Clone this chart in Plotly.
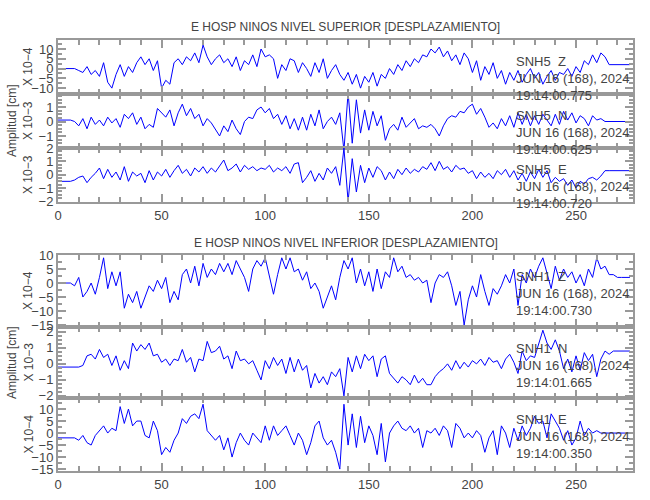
import numpy as np
import plotly.graph_objects as go

# desplazamiento, muestreado cada 2 s (0..276 s)
sup_z = [0, 0, 0, 0, 0, -1, -2, 1, -3, -1,
         -4, 3, -7, -10, -3, 2, -4, 1, -2, 3,
         6, 2, 5, -1, 4, -10, -6, -8, 3, 5,
         2, 6, 4, 8, 3, 12, 6, 2, 5, 7,
         3, 5, 1, 6, -1, 4, 2, 7, 1, 10,
         6, 7, 5, -5, 2, -1, 5, 4, -2, 3,
         0, -4, 3, -2, 5, -5, -1, 2, -3, -6,
         -2, -8, -3, -10, -4, -7, -2, -9, -3, -5,
         0, -3, 2, -1, 4, 1, 5, 3, 7, 6,
         10, 8, 11, 6, 9, 4, 7, 2, 8, 5,
         -2, 4, -6, 1, -3, 3, -5, -1, -8, -2,
         -6, -1, -7, -3, 0, -5, -2, -8, -4, -1,
         -6, -2, -3, 0, -4, 1, -2, 4, 2, 7,
         3, 8, 6, 2, 2, 2, 2, 2, 2]
sup_n = [.1, .1, .1, .1, 0, -.3, .2, -.5, .3, -.2,
         .1, -.3, .3, -.1, .2, -.4, .5, .2, .6, -.2,
         .3, -.5, -.2, -.4, .9, .6, .3, .8, -.3, .6,
         1.2, .4, .9, .2, .5, -.3, .2, -.1, -.6, -1,
         -.3, -.7, .1, -.5, -.9, 0, .3, .2, .8, 1,
         .6, .9, .2, .5, -.2, .4, -.5, .2, -.6, .3,
         -.6, .5, -.3, .8, -.5, 0, .3, -.2, .6, -2,
         2, -1.5, 1.5, -.8, .8, -.6, .7, -.3, .4, -1.3,
         -.5, -.2, -.6, .3, -.4, -.1, .2, -.5, -.3, -.4,
         -.2, -.5, -1, -.3, .2, .4, .3, .7, .6, 1,
         1.2, .5, .9, .3, -.4, -.1, -.5, .2, -.3, .4,
         -.4, .6, -.2, .5, -.3, .4, -.2, .5, .1, -.3,
         .5, -.2, .7, .1, .6, -.1, .4, .2, -.3, .4,
         .1, .2, 0, 0, 0, 0, 0, 0, 0]
sup_e = [-.5, -.5, -.5, -.5, -.4, -.2, -.1, -.6, -.2, .1,
         .5, -.3, .4, -.2, .2, -.4, .6, -.5, .2, -.1,
         .1, -.6, .3, -.4, .2, -.1, .4, -.2, .3, .7,
         .1, .4, -.1, .5, .2, .6, .1, .5, .2, .7,
         1.1, .3, .5, .8, .2, .7, .4, .6, .3, .5,
         .4, .7, .2, .5, .3, .6, .1, .8, .9, -.6,
         -.2, .3, -.5, .1, -.4, .5, .1, .6, -.8, 2,
         -2, 1.2, -1.3, .7, -.6, .5, -.2, .6, .3, -.4,
         .2, -.3, .4, 0, .5, .1, .4, .2, .6, .4,
         .9, .3, 1, .4, .6, .2, .7, .4, .5, .1,
         .3, -.3, .2, -.2, .1, -.3, .3, 0, .4, -.2,
         .3, -.4, .1, -.5, .2, -.3, .4, -.2, .3, -.6,
         -.2, -.5, -.3, -.8, -.4, -1, -.5, -.7, -.3, -.2,
         -.4, -.1, .3, .3, .3, .3, .3, .3, .3]
inf_z = [0, 0, 0, 0, -1, 2, -5, -3, 0, -4,
         2, 9, -2, 4, -1, 4, -9, -4, -7, -3,
         -9, -5, -1, -3, 1, -2, 2, -7, -3, -6,
         3, 5, 0, 6, -1, 7, 2, 5, 3, 7,
         4, 7, 3, 8, 5, 2, -3, 5, 8, 6,
         9, 2, -4, 3, 9, 5, 9, 4, 5, 1,
         4, -2, 0, -3, -9, -5, -1, -6, 2, 8,
         5, 9, 0, 5, -1, 4, -3, 5, -2, 4,
         2, 9, 4, 6, 2, 3, 1, 2, 0, 1,
         -7, 0, 3, 2, 4, -1, -8, -3, -15, -6,
         -1, -5, 3, -3, -8, -2, -4, -1, 3, 0,
         5, -8, 3, 0, 5, 2, 6, 9, 3, -2,
         6, 1, 5, 2, 4, 0, 3, -1, 5, 2,
         9, 5, 6, 3, 3, 2, 2, 2, 2]
inf_n = [-.2, -.2, -.2, -.2, -.2, -.2, -.1, .5, .6, .3,
         .9, .4, .6, -.1, .5, -.4, .2, -.3, 1.3, .8,
         1.2, .9, 1.3, .5, .6, .1, .3, -.1, .3, .2,
         .9, .1, .4, -.5, .3, .2, 1.4, .7, .8, 1.1,
         .3, .5, -.3, .8, .2, .3, 0, .2, -.4, -1,
         .2, -.3, .4, -.1, .3, -.6, .4, -.5, .3, -.4,
         -.1, -1.5, -.6, -1.2, -.8, -1.3, -.5, -.8, -.3, -2,
         .4, -.5, .5, -.3, .6, .2, .5, -.8, .3, .5,
         -.6, -.9, -1.2, -.8, -1, -1.3, -.7, -1.2, -.9, -1.3,
         -1.3, -.8, -.5, -.3, 0, -.4, .2, -.3, .1, -.2,
         .2, 0, .3, -.1, .4, .1, .2, -.3, .3, .6,
         .1, -.6, .8, .2, .5, .4, 1.2, 2.1, 1.3, .9,
         1.5, .8, -.3, .3, -.5, .5, -.4, .7, .2, .6,
         -.8, .3, .8, .6, .8, .8, .8, .8, .8]
inf_e = [-2, -2, -2, -2, -2, -3, -1, -4, -5, -1,
         1, 3, 0, 2, 1, 11, 4, 10, 3, 5,
         5, -1, -2, 5, 1, -9, -6, -8, -3, 0,
         6, 4, 7, 8, 6, 12, 1, -1, -3, -1,
         -7, -2, -10, -4, 0, -3, -5, 0, -2, -4,
         3, -3, 3, -1, 1, 3, -1, -5, 0, -3,
         -9, -4, 3, 5, -2, -5, -3, -8, -15, 12,
         -5, 8, -6, 7, -4, 3, -1, -9, 4, -12,
         0, 3, 5, 2, 1, 3, 0, 2, -6, 1,
         0, 2, -1, 3, 1, -6, 4, 2, -2, 0,
         -2, 1, -1, -8, -2, 1, -9, 3, 0, -6,
         2, -3, 3, -1, 2, 7, 4, 5, -2, 8,
         5, 2, -3, 1, -5, -2, 5, -1, 2, 0,
         1, 0, 0, 0, 0, 0, 0, 0, 0]

paneles = [
    (sup_z, "X 10−4", [-13, 14.6], [-10, -5, 0, 5, 10], 2.5, "SNH5  Z", "19:14:00.775", 40, 94),
    (sup_n, "X 10−3", [-1.83, 1.9], [-1, 0, 1], 0.25, "SNH5  N", "19:14:00.625", 94, 148),
    (sup_e, "X 10−3", [-2.05, 2.0], [-2, -1, 0, 1, 2], 0.25, "SNH5  E", "19:14:00.720", 148, 202),
    (inf_z, "X 10−4", [-15.7, 10], [-15, -10, -5, 0, 5, 10], 2.5, "SNH1  Z", "19:14:00.730", 255, 327),
    (inf_n, "X 10−3", [-2.13, 2.3], [-2, -1, 0, 1, 2], 0.25, "SNH1  N", "19:14:01.665", 327, 398),
    (inf_e, "X 10−4", [-15.8, 14.6], [-15, -10, -5, 0, 5, 10], 2.5, "SNH1  E", "19:14:00.350", 398, 471),
]

W, H = 650, 500
fuente = "Liberation Sans, Arial, sans-serif"
gris = "#999999"
texto = "#444444"

fig = go.Figure()
anots = []
lay = {}
for i, (vals, escala, rng, ticks, menor, sta, hora, ytop, ybot) in enumerate(paneles):
    n = i + 1
    t = np.linspace(0, 276, len(vals))
    fig.add_trace(go.Scatter(x=t, y=vals, mode="lines", line=dict(color="#0000ff", width=1),
                             xaxis="x%d" % n, yaxis="y%d" % n, showlegend=False))
    d0, d1 = 1 - ybot / H, 1 - ytop / H
    abajo = i in (2, 5)
    lay["xaxis%d" % n] = dict(domain=[58 / W, 633 / W], range=[0, 277.5], anchor="y%d" % n,
                              automargin=False,
                              showline=True, mirror="ticks", linecolor=gris, linewidth=2,
                              showgrid=False, zeroline=False, ticks="inside", ticklen=8,
                              tickcolor=gris, tickwidth=2, dtick=50, showticklabels=abajo,
                              tickfont=dict(family=fuente, size=13, color=texto),
                              minor=dict(dtick=10, ticks="inside", ticklen=5, tickcolor=gris))
    lay["yaxis%d" % n] = dict(domain=[d0, d1], range=rng, anchor="x%d" % n,
                              automargin=False,
                              showline=True, mirror="ticks", linecolor=gris, linewidth=2,
                              showgrid=False, zeroline=False, ticks="inside", ticklen=8,
                              tickcolor=gris, tickwidth=2, tickvals=ticks,
                              tickfont=dict(family=fuente, size=13, color=texto),
                              minor=dict(dtick=menor, ticks="inside", ticklen=4, tickcolor=gris))
    anots.append(dict(text=escala, x=28 / W, y=(d0 + d1) / 2, xref="paper", yref="paper",
                      textangle=-90, showarrow=False, xanchor="center", yanchor="middle",
                      font=dict(family=fuente, size=12, color=texto)))
    anots.append(dict(text=sta + "<br>JUN 16 (168), 2024<br>" + hora, x=514 / W,
                      y=1 - (ytop + 12) / H, xref="paper", yref="paper", xanchor="left",
                      yanchor="top", align="left", showarrow=False,
                      font=dict(family=fuente, size=13, color=texto)))

for titulo, py in [("E HOSP NINOS NIVEL SUPERIOR [DESPLAZAMIENTO]", 27),
                   ("E HOSP NINOS NIVEL INFERIOR [DESPLAZAMIENTO]", 243)]:
    anots.append(dict(text=titulo, x=346 / W, y=1 - py / H, xref="paper", yref="paper",
                      xanchor="center", yanchor="middle",
                      showarrow=False, font=dict(family=fuente, size=12, color=texto)))
for py in [121, 363]:
    anots.append(dict(text="Amplitud [cm]", x=12 / W, y=1 - py / H, xref="paper",
                      yref="paper", textangle=-90, showarrow=False,
                      xanchor="center", yanchor="middle",
                      font=dict(family=fuente, size=12, color=texto)))

fig.update_layout(width=W, height=H, margin=dict(l=0, r=0, t=0, b=0),
                  paper_bgcolor="white", plot_bgcolor="white", annotations=anots, **lay)
fig.write_html("out.html", config={"displayModeBar": False},
               post_script="document.body.style.margin='0';")
